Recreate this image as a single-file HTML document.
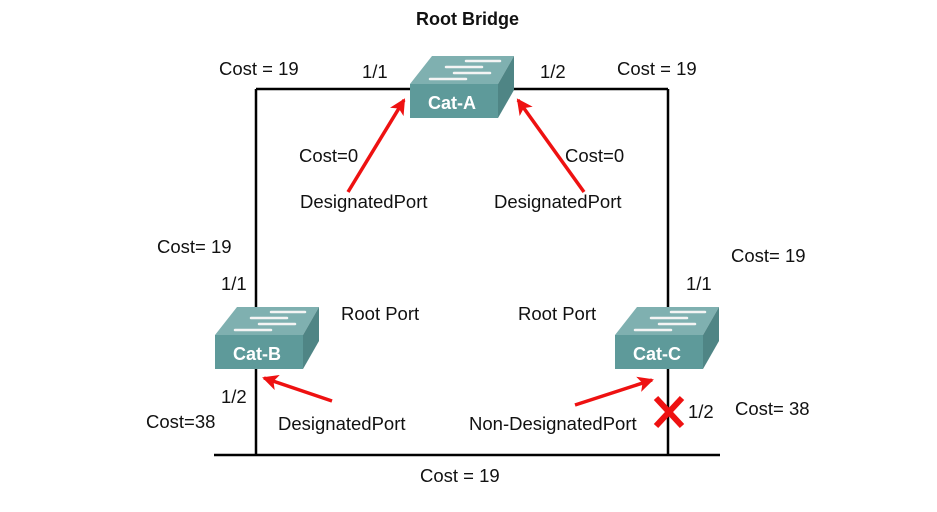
<!DOCTYPE html>
<html><head><meta charset="utf-8"><style>
html,body{margin:0;padding:0;background:#fff;}
svg{display:block;font-family:"Liberation Sans",Arial,sans-serif;}
</style></head><body>
<svg width="937" height="512" viewBox="0 0 937 512" xmlns="http://www.w3.org/2000/svg">
<defs>
<marker id="ah" markerWidth="18" markerHeight="16" refX="14" refY="8" orient="auto" markerUnits="userSpaceOnUse">
<path d="M0,0 L16,8 L0,16 L4,8 Z" fill="#ee1111"/>
</marker>
<g id="sw">
<polygon points="0,28 22,0 104,0 88,28" fill="#7fb0b0"/>
<polygon points="88,28 104,0 104,34 88,62" fill="#4f8585"/>
<rect x="0" y="28" width="88" height="34" fill="#5e9a9a"/>
<g stroke="#f4f4f4" stroke-width="2.5" stroke-linecap="round">
<line x1="56" y1="5" x2="90" y2="5"/><line x1="36" y1="11" x2="72" y2="11"/>
<line x1="44" y1="17" x2="80" y2="17"/><line x1="20" y1="23" x2="56" y2="23"/>
</g>
</g>
</defs>
<g stroke="#000" stroke-width="2.5" fill="none">
<line x1="256" y1="89" x2="668" y2="89"/>
<line x1="256" y1="89" x2="256" y2="455"/>
<line x1="668" y1="89" x2="668" y2="455"/>
<line x1="214" y1="455" x2="720" y2="455"/>
</g>
<use href="#sw" x="410" y="56"/>
<use href="#sw" x="215" y="307"/>
<use href="#sw" x="615" y="307"/>
<g fill="#fff" font-size="18" font-weight="bold" text-anchor="middle">
<text x="452" y="109">Cat-A</text>
<text x="257" y="360">Cat-B</text>
<text x="657" y="360">Cat-C</text>
</g>
<g stroke="#ee1111" stroke-width="3.5" marker-end="url(#ah)">
<line x1="348" y1="192" x2="404" y2="100"/>
<line x1="584" y1="192" x2="518" y2="100"/>
<line x1="332" y1="401" x2="264" y2="378"/>
<line x1="575" y1="405" x2="652" y2="380"/>
</g>
<g stroke="#ee1111" stroke-width="6">
<line x1="656" y1="398" x2="682" y2="426"/>
<line x1="682" y1="398" x2="656" y2="426"/>
</g>
<g font-size="18.5" fill="#111">
<text x="416" y="25" font-weight="bold" font-size="18">Root Bridge</text>
<text x="219" y="75">Cost = 19</text>
<text x="362" y="78">1/1</text>
<text x="540" y="78">1/2</text>
<text x="617" y="75">Cost = 19</text>
<text x="299" y="162">Cost=0</text>
<text x="565" y="162">Cost=0</text>
<text x="300" y="208">DesignatedPort</text>
<text x="494" y="208">DesignatedPort</text>
<text x="157" y="253">Cost= 19</text>
<text x="731" y="262">Cost= 19</text>
<text x="221" y="290">1/1</text>
<text x="686" y="290">1/1</text>
<text x="341" y="320">Root Port</text>
<text x="518" y="320">Root Port</text>
<text x="221" y="403">1/2</text>
<text x="146" y="428">Cost=38</text>
<text x="278" y="430">DesignatedPort</text>
<text x="469" y="430">Non-DesignatedPort</text>
<text x="688" y="418">1/2</text>
<text x="735" y="415">Cost= 38</text>
<text x="420" y="482">Cost = 19</text>
</g>
</svg>
</body></html>
